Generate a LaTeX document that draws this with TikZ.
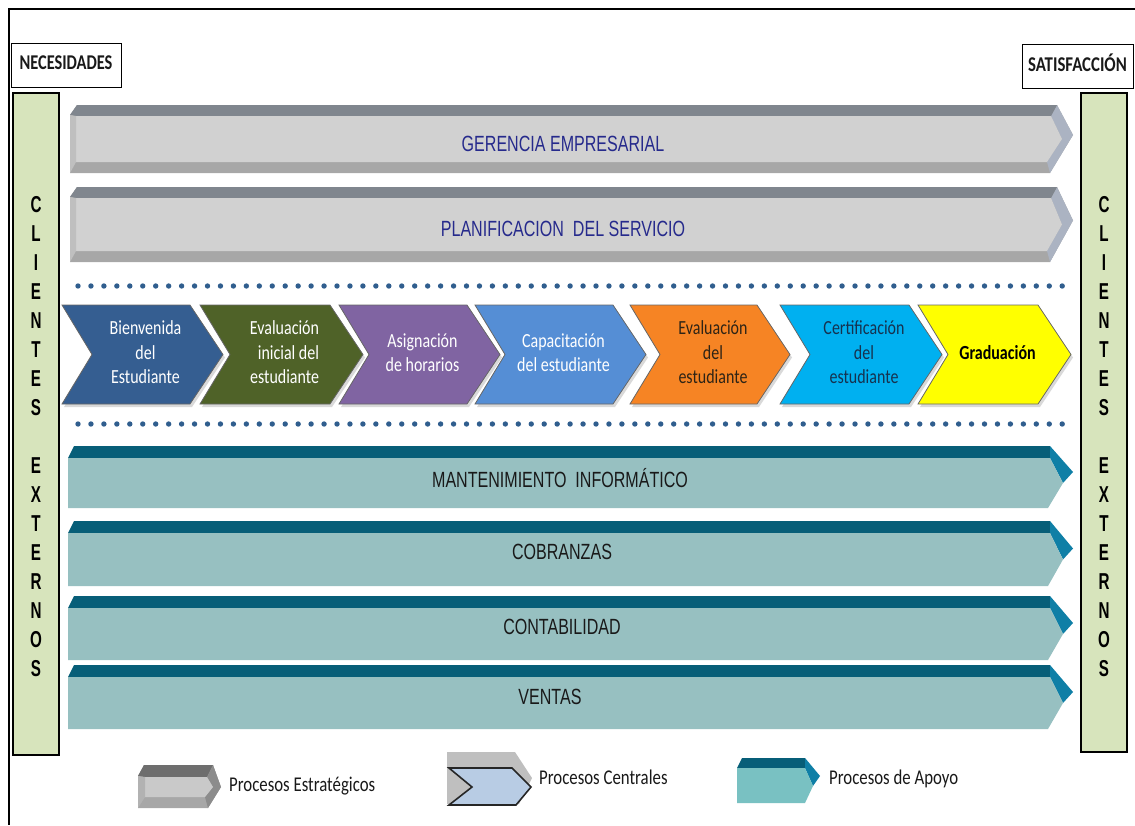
\documentclass[tikz,border=0pt]{standalone}
\usepackage{graphicx}
\usepackage{fontspec}
\setmainfont{Carlito}
\newfontfamily\arialfont{Liberation Sans}

% colours of the process map
\definecolor{clientgreen}{HTML}{D7E4BC}
\definecolor{dotblue}{HTML}{305E8E}
\definecolor{stratblue}{HTML}{262A8C}
\definecolor{gtop}{HTML}{80868E}
\definecolor{gfacet}{HTML}{ABB3C2}
\definecolor{gbody}{HTML}{D1D1D1}
\definecolor{gbottom}{HTML}{A7A7A7}
\definecolor{gleft}{HTML}{BFBFBF}
\definecolor{ttop}{HTML}{075E78}
\definecolor{tfacet}{HTML}{0F7FA6}
\definecolor{tbody}{HTML}{97C0C1}
\definecolor{tbodylight}{HTML}{79C1C2}
\definecolor{cBienv}{HTML}{355E91}
\definecolor{cEvalIni}{HTML}{4F6228}
\definecolor{cAsig}{HTML}{8064A2}
\definecolor{cCapac}{HTML}{558ED5}
\definecolor{cEvalEst}{HTML}{F68424}
\definecolor{cCertif}{HTML}{00B0F0}
\definecolor{cGrad}{HTML}{FFFF00}
\definecolor{tEvalEst}{HTML}{2E2416}
\definecolor{tCertif}{HTML}{16324F}
\definecolor{cCentral}{HTML}{B8CCE4}

% condensed lines of text: [alignment]{x factor}{lines}
\newcommand{\slim}[3][c]{\scalebox{#2}[1]{\begin{tabular}{@{}#1@{}}#3\end{tabular}}}

\begin{document}
\begin{tikzpicture}[x=1pt,y=-1pt,
  chevtext/.style={font=\fontsize{20}{24.5}\selectfont, inner sep=0pt},
  bandtext/.style={font=\arialfont\fontsize{22}{26}\selectfont, inner sep=0pt},
  legtext/.style={font=\fontsize{21}{24}\selectfont, text=black!90, inner sep=0pt, anchor=west},
  tagbox/.style={draw, line width=1pt, fill=white, minimum height=44pt, inner sep=0pt,
    font=\bfseries\fontsize{21}{24}\selectfont, text=black!90},
  clientcol/.style={draw, line width=2.5pt, fill=clientgreen},
  coltext/.style={font=\arialfont\bfseries\fontsize{23}{29}\selectfont, inner sep=0pt}]
\useasboundingbox (0,0) rectangle (1135,825);
\draw[line width=2.5pt] (1135,9) -- (9,9) -- (9,825);	% frame

% tags and client columns
\node[tagbox, minimum width=110pt] (needs) at (66,65) {\slim{0.78}{NECESIDADES}};
\node[tagbox, minimum width=111pt] (satisf) at (1077.5,66) {\slim{0.8}{SATISFACCIÓN}};
\draw[clientcol] (13,93) rectangle (59,755);
\draw[clientcol] (1081,93) rectangle (1127,752);
\foreach \cx/\nm in {36/clientL, 1104/clientR}
  \node[coltext] (\nm) at (\cx,438.5) {\slim{0.66}{C\\L\\I\\E\\N\\T\\E\\S\\ \\E\\X\\T\\E\\R\\N\\O\\S}};

% strategic processes
\foreach \t/\b/\lbl [count=\i] in {105/173/{GERENCIA EMPRESARIAL}, 187/262/{PLANIFICACION~~DEL SERVICIO}} {
  \pgfmathsetmacro{\m}{(\t+\b)/2}
  \fill[gbottom] (70,\t+10) -- (77,\t) -- (1057,\t) -- (1073,\m-4) -- (1050,\b) -- (70,\b) -- cycle;
  \fill[gfacet] (1057,\t) -- (1073,\m-4) -- (1050,\b) -- (1047,\b-11) -- (1062,\m) -- (1051,\t+11) -- cycle;
  \fill[gtop] (70,\t+10) -- (77,\t) -- (1057,\t) -- (1051,\t+11) -- (76,\t+11) -- cycle;
  \fill[gbody] (76,\t+11) -- (1051,\t+11) -- (1062,\m) -- (1047,\b-11) -- (76,\b-11) -- cycle;
  \fill[gleft] (70,\t+10) -- (76,\t+11) -- (76,\b-11) -- (70,\b) -- cycle;
  \node[bandtext, text=stratblue] (strat\i) at (563,\m+7) {\slim{0.73}{\lbl}};
}

% dotted separators
\foreach \k in {0,...,76} {
  \fill[dotblue] ({78+\k*12.95},286) circle (2.7);
  \fill[dotblue] ({78+\k*12.95},424) circle (2.7);
}

% core processes
\foreach \xl/\xt/\fillc/\txtc/\al/\lbl [count=\i] in {
    62/223/cBienv/white/c/{Bienvenida\\del\\Estudiante},
    200/363/cEvalIni/white/r/{Evaluación\\inicial del\\estudiante},
    339/500/cAsig/white/c/{Asignación\\de horarios},
    475/646/cCapac/white/c/{Capacitación\\del estudiante},
    630/790/cEvalEst/tEvalEst/c/{Evaluación\\del\\estudiante},
    780/942/cCertif/tCertif/c/{Certificación\\del\\estudiante},
    918/1071/cGrad/black/c/{\bfseries Graduación}} {
  \fill[black!15, xshift=2pt, yshift=-3pt] (\xl,305) -- ({\xt-33},305) -- (\xt,354.5) -- ({\xt-33},404) -- (\xl,404) -- ({\xl+30},354.5) -- cycle;
  \filldraw[fill=\fillc, draw=black!60, line width=0.8pt] (\xl,305) -- ({\xt-33},305) -- (\xt,354.5) -- ({\xt-33},404) -- (\xl,404) -- ({\xl+30},354.5) -- cycle;
  \node[chevtext, text=\txtc] (chev\i) at ({(\xl+\xt)/2+3},354.5) {\slim[\al]{0.8}{\lbl}};
}

% support processes
\foreach \t/\b/\tx/\ty/\lbl [count=\i] in {446/508/560/482/{MANTENIMIENTO~~INFORMÁTICO},
    521/586/562/554/COBRANZAS, 596/660/562/629/CONTABILIDAD, 665/729/550/699/VENTAS} {
  \pgfmathsetmacro{\m}{(\t+12+\b)/2}
  \fill[ttop] (68,\t+12) -- (74,\t) -- (1050,\t) -- (1050,\t+12) -- cycle;
  \fill[tfacet] (1050,\t) -- (1073,\m-11) -- (1063,\m) -- (1050,\t+12) -- cycle;
  \fill[tbody] (68,\t+12) -- (1050,\t+12) -- (1063,\m) -- (1048,\b) -- (68,\b) -- cycle;
  \node[bandtext, text=black!90] (apoyo\i) at (\tx,\ty) {\slim{0.73}{\lbl}};
}

% legend
\fill[gbottom] (138,776) -- (144,765) -- (213,765) -- (221,787) -- (208,808) -- (138,808) -- cycle;
\fill[black!57] (138,776) -- (144,765) -- (213,765) -- (207,777) -- (145,777) -- cycle;
\fill[black!45] (213,765) -- (221,787) -- (208,808) -- (205,797) -- (213,787) -- (207,777) -- cycle;
\fill[black!21] (145,777) -- (207,777) -- (213,787) -- (205,797) -- (145,797) -- cycle;
\fill[black!30] (138,776) -- (145,777) -- (145,797) -- (138,808) -- cycle;
\node[legtext] (legStrat) at (229,787) {\slim{0.8}{Procesos Estratégicos}};
\fill[gleft] (447,752) -- (515,752) -- (532,778) -- (519,804) -- (447,804) -- cycle;
\filldraw[fill=cCentral, draw=black!85, line width=1.6pt] (449,768) -- (512,768) -- (531,787) -- (516,805) -- (449,805) -- (472,787) -- cycle;
\node[legtext] (legCore) at (539,780) {\slim{0.8}{Procesos Centrales}};
\fill[ttop] (737,768) -- (742,758) -- (805,758) -- (805,768) -- cycle;
\fill[tfacet] (805,758) -- (820,776) -- (813,786) -- (805,768) -- cycle;
\fill[tbodylight] (737,768) -- (805,768) -- (813,786) -- (805,803) -- (737,803) -- cycle;
\node[legtext] (legSupport) at (829,780) {\slim{0.8}{Procesos de Apoyo}};
\end{tikzpicture}
\end{document}
